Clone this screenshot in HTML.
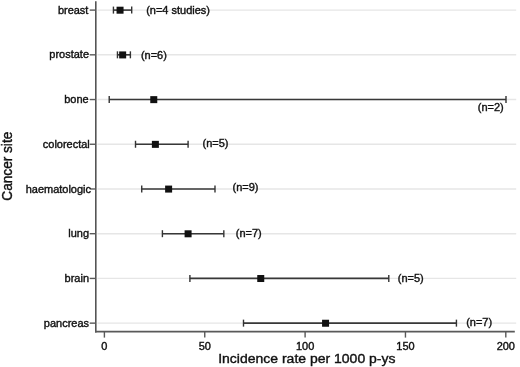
<!DOCTYPE html>
<html><head><meta charset="utf-8"><style>
html,body{margin:0;padding:0;background:#fff;}
svg{display:block;will-change:transform;}
.t{font-family:"Liberation Sans",sans-serif;font-size:11px;fill:#111;stroke:#111;stroke-width:0.4px;}
.ti{font-family:"Liberation Sans",sans-serif;font-size:14px;fill:#111;stroke:#111;stroke-width:0.4px;}
</style></head><body>
<svg width="520" height="367" viewBox="0 0 520 367">
<line x1="97.5" y1="10.10" x2="516.2" y2="10.10" stroke="#e6e6e6" stroke-width="1.4"/>
<line x1="97.5" y1="54.82" x2="516.2" y2="54.82" stroke="#e6e6e6" stroke-width="1.4"/>
<line x1="97.5" y1="99.54" x2="516.2" y2="99.54" stroke="#e6e6e6" stroke-width="1.4"/>
<line x1="97.5" y1="144.26" x2="516.2" y2="144.26" stroke="#e6e6e6" stroke-width="1.4"/>
<line x1="97.5" y1="188.98" x2="516.2" y2="188.98" stroke="#e6e6e6" stroke-width="1.4"/>
<line x1="97.5" y1="233.70" x2="516.2" y2="233.70" stroke="#e6e6e6" stroke-width="1.4"/>
<line x1="97.5" y1="278.42" x2="516.2" y2="278.42" stroke="#e6e6e6" stroke-width="1.4"/>
<line x1="97.5" y1="323.14" x2="516.2" y2="323.14" stroke="#e6e6e6" stroke-width="1.4"/>
<line x1="95.8" y1="1.3" x2="95.8" y2="332.5" stroke="#555" stroke-width="1.6"/>
<line x1="95.0" y1="331.7" x2="514.8" y2="331.7" stroke="#595959" stroke-width="1.8"/>
<line x1="89.7" y1="10.10" x2="95.8" y2="10.10" stroke="#595959" stroke-width="1.4"/>
<text transform="translate(88.40,13.70) scale(1,0.92)" text-anchor="end" class="t">breast</text>
<line x1="89.7" y1="54.82" x2="95.8" y2="54.82" stroke="#595959" stroke-width="1.4"/>
<text transform="translate(89.00,58.42) scale(1,0.92)" text-anchor="end" class="t">prostate</text>
<line x1="89.7" y1="99.54" x2="95.8" y2="99.54" stroke="#595959" stroke-width="1.4"/>
<text transform="translate(88.60,103.14) scale(1,0.92)" text-anchor="end" class="t">bone</text>
<line x1="89.7" y1="144.26" x2="95.8" y2="144.26" stroke="#595959" stroke-width="1.4"/>
<text transform="translate(89.80,147.86) scale(1,0.92)" text-anchor="end" class="t">colorectal</text>
<line x1="89.7" y1="188.98" x2="95.8" y2="188.98" stroke="#595959" stroke-width="1.4"/>
<text transform="translate(91.00,192.58) scale(1,0.92)" text-anchor="end" class="t">haematologic</text>
<line x1="89.7" y1="233.70" x2="95.8" y2="233.70" stroke="#595959" stroke-width="1.4"/>
<text transform="translate(89.00,237.30) scale(1,0.92)" text-anchor="end" class="t">lung</text>
<line x1="89.7" y1="278.42" x2="95.8" y2="278.42" stroke="#595959" stroke-width="1.4"/>
<text transform="translate(89.00,282.02) scale(1,0.92)" text-anchor="end" class="t">brain</text>
<line x1="89.7" y1="323.14" x2="95.8" y2="323.14" stroke="#595959" stroke-width="1.4"/>
<text transform="translate(89.00,326.74) scale(1,0.92)" text-anchor="end" class="t">pancreas</text>
<line x1="104.40" y1="331.7" x2="104.40" y2="337.6" stroke="#595959" stroke-width="1.4"/>
<text transform="translate(104.40,350.00) scale(1,0.92)" text-anchor="middle" class="t">0</text>
<line x1="204.75" y1="331.7" x2="204.75" y2="337.6" stroke="#595959" stroke-width="1.4"/>
<text transform="translate(204.75,350.00) scale(1,0.92)" text-anchor="middle" class="t">50</text>
<line x1="305.10" y1="331.7" x2="305.10" y2="337.6" stroke="#595959" stroke-width="1.4"/>
<text transform="translate(305.10,350.00) scale(1,0.92)" text-anchor="middle" class="t">100</text>
<line x1="405.45" y1="331.7" x2="405.45" y2="337.6" stroke="#595959" stroke-width="1.4"/>
<text transform="translate(405.45,350.00) scale(1,0.92)" text-anchor="middle" class="t">150</text>
<line x1="505.80" y1="331.7" x2="505.80" y2="337.6" stroke="#595959" stroke-width="1.4"/>
<text transform="translate(505.80,350.00) scale(1,0.92)" text-anchor="middle" class="t">200</text>
<line x1="113.43" y1="10.10" x2="131.70" y2="10.10" stroke="#383838" stroke-width="1.6"/>
<line x1="113.43" y1="6.60" x2="113.43" y2="13.60" stroke="#333" stroke-width="1.4"/>
<line x1="131.70" y1="6.60" x2="131.70" y2="13.60" stroke="#333" stroke-width="1.4"/>
<rect x="116.55" y="6.70" width="7.0" height="7.0" fill="#111"/>
<line x1="117.45" y1="54.82" x2="130.39" y2="54.82" stroke="#383838" stroke-width="1.6"/>
<line x1="117.45" y1="51.32" x2="117.45" y2="58.32" stroke="#333" stroke-width="1.4"/>
<line x1="130.39" y1="51.32" x2="130.39" y2="58.32" stroke="#333" stroke-width="1.4"/>
<rect x="119.16" y="51.42" width="7.0" height="7.0" fill="#111"/>
<line x1="109.22" y1="99.54" x2="506.00" y2="99.54" stroke="#383838" stroke-width="1.6"/>
<line x1="109.22" y1="96.04" x2="109.22" y2="103.04" stroke="#333" stroke-width="1.4"/>
<line x1="506.00" y1="96.04" x2="506.00" y2="103.04" stroke="#333" stroke-width="1.4"/>
<rect x="150.27" y="96.14" width="7.0" height="7.0" fill="#111"/>
<line x1="135.51" y1="144.26" x2="188.09" y2="144.26" stroke="#383838" stroke-width="1.6"/>
<line x1="135.51" y1="140.76" x2="135.51" y2="147.76" stroke="#333" stroke-width="1.4"/>
<line x1="188.09" y1="140.76" x2="188.09" y2="147.76" stroke="#333" stroke-width="1.4"/>
<rect x="151.88" y="140.86" width="7.0" height="7.0" fill="#111"/>
<line x1="141.73" y1="188.98" x2="214.99" y2="188.98" stroke="#383838" stroke-width="1.6"/>
<line x1="141.73" y1="185.48" x2="141.73" y2="192.48" stroke="#333" stroke-width="1.4"/>
<line x1="214.99" y1="185.48" x2="214.99" y2="192.48" stroke="#333" stroke-width="1.4"/>
<rect x="165.12" y="185.58" width="7.0" height="7.0" fill="#111"/>
<line x1="162.40" y1="233.70" x2="223.82" y2="233.70" stroke="#383838" stroke-width="1.6"/>
<line x1="162.40" y1="230.20" x2="162.40" y2="237.20" stroke="#333" stroke-width="1.4"/>
<line x1="223.82" y1="230.20" x2="223.82" y2="237.20" stroke="#333" stroke-width="1.4"/>
<rect x="184.59" y="230.30" width="7.0" height="7.0" fill="#111"/>
<line x1="189.90" y1="278.42" x2="388.79" y2="278.42" stroke="#383838" stroke-width="1.6"/>
<line x1="189.90" y1="274.92" x2="189.90" y2="281.92" stroke="#333" stroke-width="1.4"/>
<line x1="388.79" y1="274.92" x2="388.79" y2="281.92" stroke="#333" stroke-width="1.4"/>
<rect x="257.25" y="275.02" width="7.0" height="7.0" fill="#111"/>
<line x1="243.49" y1="323.14" x2="456.43" y2="323.14" stroke="#383838" stroke-width="1.6"/>
<line x1="243.49" y1="319.64" x2="243.49" y2="326.64" stroke="#333" stroke-width="1.4"/>
<line x1="456.43" y1="319.64" x2="456.43" y2="326.64" stroke="#333" stroke-width="1.4"/>
<rect x="322.07" y="319.74" width="7.0" height="7.0" fill="#111"/>
<text transform="translate(146.20,14.30) scale(1,0.92)" class="t">(n=4 studies)</text>
<text transform="translate(140.90,58.60) scale(1,0.92)" class="t">(n=6)</text>
<text transform="translate(477.80,110.90) scale(1,0.92)" class="t">(n=2)</text>
<text transform="translate(202.50,146.90) scale(1,0.92)" class="t">(n=5)</text>
<text transform="translate(232.50,191.00) scale(1,0.92)" class="t">(n=9)</text>
<text transform="translate(235.80,236.90) scale(1,0.92)" class="t">(n=7)</text>
<text transform="translate(397.80,281.60) scale(1,0.92)" class="t">(n=5)</text>
<text transform="translate(466.20,325.60) scale(1,0.92)" class="t">(n=7)</text>
<text transform="translate(218.20,363.00) scale(1,0.95)" class="ti">Incidence rate per 1000 p-ys</text>
<text transform="translate(11.9,200.7) rotate(-90) scale(0.975,1)" class="ti">Cancer site</text>
</svg>
</body></html>
